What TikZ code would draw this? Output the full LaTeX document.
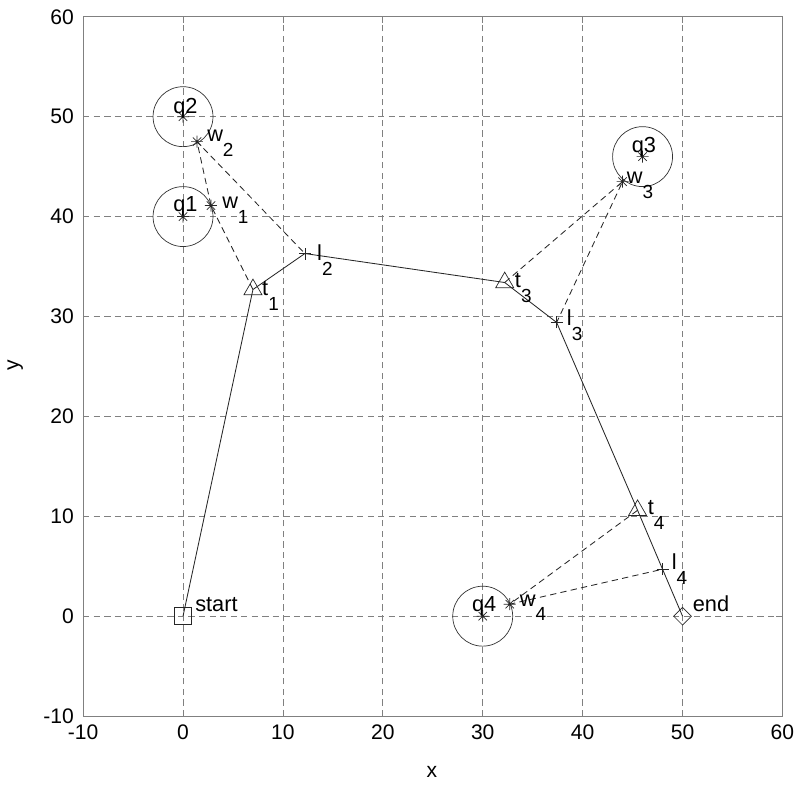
\documentclass[tikz,border=0pt]{standalone}
\usepackage{fontspec}
\setmainfont{Liberation Sans}
\usepackage{tikz}
\usetikzlibrary{shapes.geometric}
\newcommand{\lowidx}[1]{\raisebox{-0.68em}{\fontsize{13.5}{14}\selectfont #1}}

\begin{document}
\begin{tikzpicture}[
       x=0.25cm, y=0.25cm,
       gridline/.style={
           gray,
           dash pattern=on 4.5pt off 3pt,
           line width=0.5pt
       },
       axisbox/.style={gray, line width=0.6pt},
       route/.style={black!85, line width=0.6pt},
       detour/.style={
           black!85,
           dash pattern=on 4.5pt off 3pt,
           line width=0.6pt
       },
       zone/.style={
           circle,
           draw=black!80,
           line width=0.5pt,
           minimum size=1.5cm,
           inner sep=0pt
       },
       trimark/.style={
           regular polygon,
           regular polygon sides=3,
           draw=black!85,
           line width=0.5pt,
           minimum size=0.52cm,
           inner sep=0pt
       },
       sqmark/.style={rectangle, draw=black!85, line width=0.5pt, minimum size=0.42cm, inner sep=0pt},
       dmmark/.style={diamond, draw=black!85, line width=0.5pt, minimum size=0.45cm, inner sep=0pt},
       lbl/.style={anchor=base west, inner sep=0pt, font=\fontsize{15.5}{18}\selectfont},
       ticklbl/.style={inner sep=0pt, font=\fontsize{15}{18}\selectfont},
       plusmark/.pic={\draw[black!85, line width=0.5pt] (-0.6,0) -- (0.6,0) (0,-0.6) -- (0,0.6);},
       starmark/.pic={\draw[black!85, line width=0.5pt] (-0.6,0) -- (0.6,0) (0,-0.6) -- (0,0.6)
           (-0.42,-0.42) -- (0.42,0.42) (-0.42,0.42) -- (0.42,-0.42);}
   ]

   \useasboundingbox (-18.32,-16.9) rectangle (61.76,61.68);

   % Grid
   \foreach \v in {0,10,...,50} {
       \draw[gridline] (\v,-10) -- (\v,60);
       \draw[gridline] (-10,\v) -- (60,\v);
   }

   % Axes box and ticks
   \draw[axisbox] (-10,-10) rectangle (60,60);
   \foreach \v in {-10,0,...,60} {
       \draw[axisbox] (\v,-10) -- ++(0,0.6);
       \draw[axisbox] (\v,60) -- ++(0,-0.6);
       \draw[axisbox] (-10,\v) -- ++(0.6,0);
       \draw[axisbox] (60,\v) -- ++(-0.6,0);
   }

   % Tick labels
   \foreach \v [count=\i] in {-10,0,...,60} {
       \node[ticklbl, anchor=north] (xt\i) at (\v,-10.8) {\v};
       \node[ticklbl, anchor=east] (yt\i) at (-10.9,\v) {\v};
   }
   \node[ticklbl] (xname) at (24.9,-15.6) {x};
   \node[ticklbl, rotate=90] (yname) at (-16.8,25.1) {y};

   % Points
   \coordinate (start) at (0,0);
   \coordinate (end) at (50,0);
   \coordinate (q1) at (0,40);
   \coordinate (q2) at (0,50);
   \coordinate (q3) at (46,46);
   \coordinate (q4) at (30,0);
   \coordinate (w1) at (2.8,41.1);
   \coordinate (w2) at (1.4,47.5);
   \coordinate (w3) at (44.0,43.5);
   \coordinate (w4) at (32.7,1.2);
   \coordinate (t1) at (7.0,32.7);
   \coordinate (t3) at (32.2,33.4);
   \coordinate (t4) at (45.5,10.6);
   \coordinate (l2) at (12.2,36.3);
   \coordinate (l3) at (37.4,29.4);
   \coordinate (l4) at (48.0,4.7);

   % Circles round q
   \node[zone] (c1) at (q1) {};
   \node[zone] (c2) at (q2) {};
   \node[zone] (c3) at (q3) {};
   \node[zone] (c4) at (q4) {};

   % Route
   \draw[route] (start) -- (t1) -- (l2) -- (t3) -- (l3) -- (t4) -- (l4) -- (end);

   % Detours via w
   \draw[detour] (t1) -- (w1) -- (w2) -- (l2);
   \draw[detour] (t3) -- (w3) -- (l3);
   \draw[detour] (t4) -- (w4) -- (l4);

   % Markers
   \node[sqmark] (mstart) at (start) {};
   \node[dmmark] (mend) at (end) {};
   \node[trimark] (mt1) at (t1) {};
   \node[trimark] (mt3) at (t3) {};
   \node[trimark] (mt4) at (t4) {};
   \pic at (l2) {plusmark};
   \pic at (l3) {plusmark};
   \pic at (l4) {plusmark};
   \pic at (w1) {starmark};
   \pic at (w2) {starmark};
   \pic at (w3) {starmark};
   \pic at (w4) {starmark};
   \pic at (q1) {starmark};
   \pic at (q2) {starmark};
   \pic at (q3) {starmark};
   \pic at (q4) {starmark};

   % Labels
   \node[lbl] (lq1) at (-1.0,40.5) {q1};
   \node[lbl] (lq2) at (-1.0,50.35) {q2};
   \node[lbl] (lq3) at (44.9,46.4) {q3};
   \node[lbl] (lq4) at (28.9,0.5) {q4};
   \node[lbl] (lw1) at (3.9,40.8) {w\lowidx{1}};
   \node[lbl] (lw2) at (2.4,47.5) {w\lowidx{2}};
   \node[lbl] (lw3) at (44.4,43.3) {w\lowidx{3}};
   \node[lbl] (lw4) at (33.7,1.0) {w\lowidx{4}};
   \node[lbl] (lt1) at (7.9,32.1) {t\lowidx{1}};
   \node[lbl] (lt3) at (33.2,32.9) {t\lowidx{3}};
   \node[lbl] (lt4) at (46.5,10.2) {t\lowidx{4}};
   \node[lbl] (ll2) at (13.4,35.6) {l\lowidx{2}};
   \node[lbl] (ll3) at (38.4,29.1) {l\lowidx{3}};
   \node[lbl] (ll4) at (48.9,4.7) {l\lowidx{4}};
   \node[lbl] (lstart) at (1.2,0.5) {start};
   \node[lbl] (lend) at (51.0,0.5) {end};

   \end{tikzpicture}
\end{document}
